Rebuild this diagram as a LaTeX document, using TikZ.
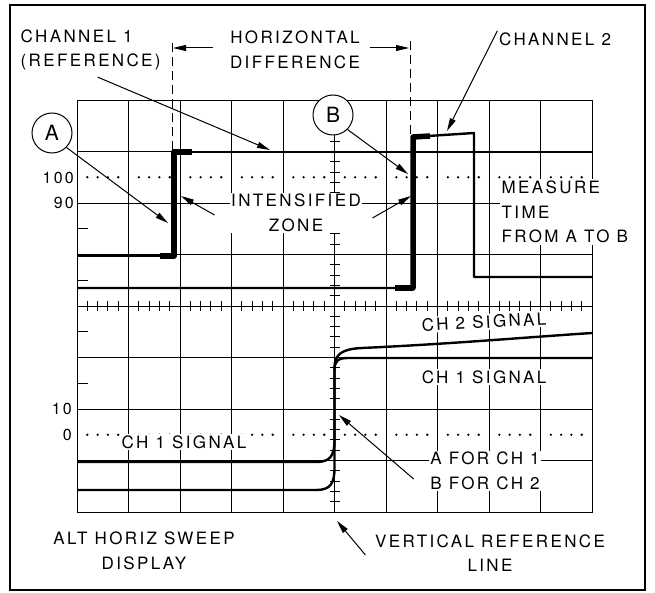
\documentclass[tikz,border=0pt]{standalone}
\usepackage{fontspec}
\setmainfont{TeX Gyre Heros}[LetterSpace=14]
\usetikzlibrary{arrows.meta}
\begin{document}
\begin{tikzpicture}[x=1pt,y=-1pt,>={Triangle[length=13pt,width=6pt]},
  lbl/.style={font=\fontsize{17}{24.5}\selectfont, fill=white, inner sep=1.5pt},
  num/.style={font=\fontsize{16}{18}\selectfont, anchor=east, inner sep=1pt},
  gridline/.style={line width=0.9pt},
  trace/.style={line width=2.4pt, line join=round},
  bright/.style={line width=5.5pt, line join=round},
  pointer/.style={->, line width=1pt},
  marker/.style={draw, circle, minimum size=40pt, inner sep=0pt, fill=white, line width=1pt, font=\fontsize{21}{21}\selectfont}]
\useasboundingbox (0,0) rectangle (655,593);
\draw[line width=1.5pt] (10,5) rectangle (645,590);
% graticule
\draw[gridline] (77,100) rectangle (592,512);
\foreach \i in {1,...,9} \draw[gridline] ({77+51.5*\i},100) -- ({77+51.5*\i},512);
\foreach \j in {1,...,7} \draw[gridline] (77,{100+51.5*\j}) -- (592,{100+51.5*\j});
\foreach \k in {1,...,49} \draw[gridline] ({77+10.3*\k},301) -- ({77+10.3*\k},311);
\foreach \k in {1,...,39} \draw[gridline] (329.5,{100+10.3*\k}) -- (339.5,{100+10.3*\k});
\foreach \k in {1,...,49} {
  \pgfmathtruncatemacro\r{mod(\k,5)}
  \ifnum\r>0
    \fill ({77+10.3*\k},177.25) circle (1.3);
    \fill ({77+10.3*\k},434.75) circle (1.3);
  \fi
}
\foreach \y in {228.75,280.25,331.75,383.25} \draw[gridline] (77,\y) -- (88,\y);
\node[num] (l100) at (75,178) {100};
\node[num] (l90) at (75,203) {90};
\node[num] (l10) at (73,409) {10};
\node[num] (l0) at (73,435) {0};
% labels
\node[lbl, align=left, anchor=west] (chone) at (19,50) {CHANNEL 1\\(REFERENCE)};
\node[lbl, align=center] (hdiff) at (295,50) {HORIZONTAL\\DIFFERENCE};
\node[lbl] (chtwo) at (555,39) {CHANNEL 2};
\node[lbl, align=center] (intens) at (296,213) {INTENSIFIED\\ZONE};
\node[lbl, align=left, anchor=west] (measure) at (500,212) {MEASURE\\TIME\\FROM A TO B};
\node[lbl, rotate=3] (sigtwo) at (484,322) {CH 2 SIGNAL};
\node[lbl] (sigone) at (484,377) {CH 1 SIGNAL};
\node[lbl] (sigonel) at (184,442) {CH 1 SIGNAL};
\node[lbl, align=left] (afor) at (485,471) {A FOR CH 1\\B FOR CH 2};
\node[lbl, align=center] (vref) at (490,553) {VERTICAL REFERENCE\\LINE};
\node[lbl, align=center] (alt) at (144,551) {ALT HORIZ SWEEP\\DISPLAY};
\node[marker] (ca) at (52,133) {A};
\node[marker] (cb) at (333,115) {B};
% traces
\draw[trace] (77,256) -- (174,256) -- (174,152) -- (592,152);
\draw[bright] (160,256) -- (174,256) -- (174,152) -- (192,152);
\draw[trace] (77,288) -- (413,288) -- (413,137) -- (474,133) -- (474,277) -- (592,277);
\draw[bright] (395,288) -- (413,288) -- (413,137) -- (430,136);
\draw[trace] (77,462) -- (316,462) .. controls (330,462) and (334.5,456) .. (334.5,440)
  -- (334.5,370) .. controls (334.5,361) and (338,358) .. (348,358) -- (592,358);
\draw[trace] (77,490) -- (316,490) .. controls (330,490) and (334.5,484) .. (334.5,468)
  -- (334.5,368) .. controls (334.5,354) and (342,349) .. (362,348)
  .. controls (450,344) and (530,337) .. (592,333);
% pointers
\coordinate (da) at (172,43);
\coordinate (db) at (410,41);
\draw[dashed, dash pattern=on 9pt off 5pt, line width=1pt] (da) -- (172,152);
\draw[dashed, dash pattern=on 9pt off 5pt, line width=1pt] (db) -- (410,137);
\coordinate (ha) at (173,48);
\coordinate (hb) at (409,48);
\coordinate (tone) at (270,150);
\coordinate (ttwo) at (447,131);
\coordinate (ta) at (168,223);
\coordinate (tb) at (408,174);
\coordinate (ia) at (181,196);
\coordinate (ib) at (411,196);
\coordinate (tv) at (337,521);
\coordinate (tab) at (339,415);
\draw[pointer] ([xshift=7pt,yshift=-5pt]chone.south) -- (tone);
\draw[pointer] (chtwo.north west) -- (ttwo);
\draw[pointer] (ca.-45) -- (ta);
\draw[pointer] (cb.-45) -- (tb);
\draw[pointer] ([xshift=-15pt]hdiff.west |- ha) -- (ha);
\draw[pointer] ([xshift=8pt]hdiff.east |- hb) -- (hb);
\draw[pointer] ([xshift=-15pt,yshift=-2pt]intens.west) -- (ia);
\draw[pointer] ([xshift=10pt,yshift=-5pt]intens.east) -- (ib);
\draw[pointer] ([xshift=-8pt,yshift=-2pt]vref.west) -- (tv);
\draw[pointer] ([xshift=-15pt,yshift=-8pt]afor.west) -- (tab);
\end{tikzpicture}
\end{document}
